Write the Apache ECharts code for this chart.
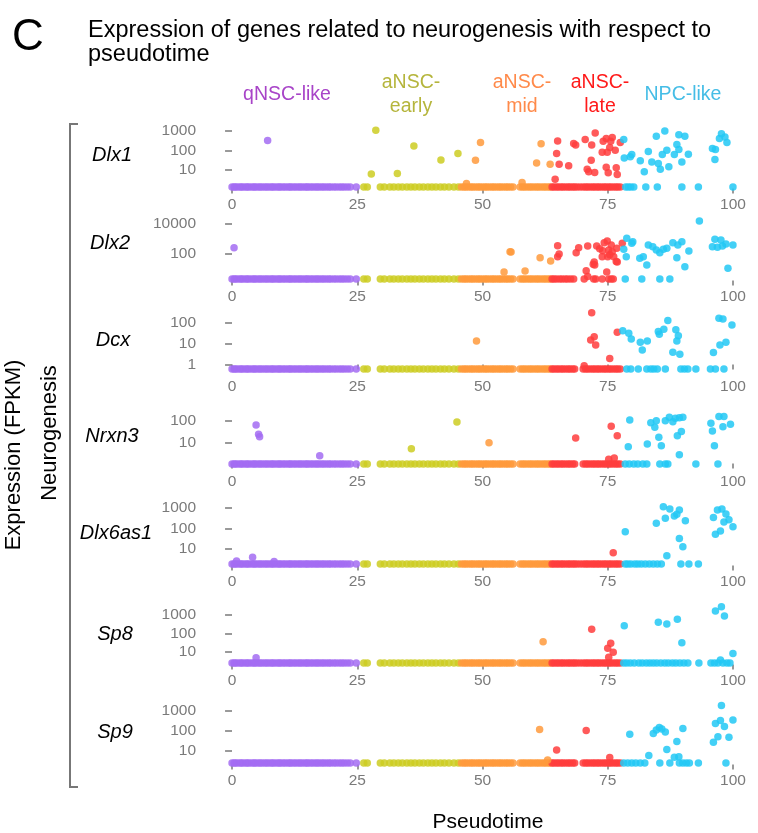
<!DOCTYPE html>
<html>
<head>
<meta charset="utf-8">
<script src="https://cdn.jsdelivr.net/npm/echarts@6/dist/echarts.min.js"></script>
<style>
  html, body { margin: 0; padding: 0; background: #ffffff; }
  #chart { width: 758px; height: 833px; }
</style>
</head>
<body>
<div id="chart"></div>
<script>
// ---------------------------------------------------------------------------
// Cell stages along pseudotime
// ---------------------------------------------------------------------------
const stageNames  = ['qNSC-like', 'aNSC-early', 'aNSC-mid', 'aNSC-late', 'NPC-like'];
const stageColors = ['#a36cf2', '#cccc22', '#ff9a3c', '#ff3d3d', '#22c8f5'];
const stageTextColors = ['#a844c8', '#b5b53c', '#ff8a4a', '#ff1a1a', '#45bde6'];
const stageBreaks = [25.8, 45.6, 63.7, 77.95];   // pseudotime where the next stage starts

const pseudotimeTicks = [0, 25, 50, 75, 100];
const geneNames = ['Dlx1', 'Dlx2', 'Dcx', 'Nrxn3', 'Dlx6as1', 'Sp8', 'Sp9'];

// Cells with no detected expression (pseudotime), shared by every gene up to aNSC-mid
const earlyZeroCells = [
  0.0, 0.4, 0.7, 1.1, 1.6, 1.9, 2.3, 2.8, 3.1, 3.5, 4.0, 4.4, 4.7, 5.2, 5.6, 6.0, 6.5, 6.9,
  7.3, 7.8, 8.1, 8.5, 9.0, 9.4, 9.7, 10.2, 10.6, 11.1, 11.5, 11.8, 12.3, 12.7, 13.2, 13.6,
  14.0, 14.5, 14.9, 15.2, 15.7, 16.1, 16.6, 17.0, 17.4, 17.9, 18.3, 18.8, 19.3, 19.7, 20.3,
  20.8, 21.4, 21.9, 22.4, 23.0, 23.6, 24.8,
  26.3, 27.0, 29.6, 30.4, 31.5, 32.3, 33.2, 34.0, 34.9, 35.7, 36.5, 37.4, 38.2, 39.1, 39.9,
  40.7, 41.6, 42.4, 43.3, 44.3, 45.2,
  45.8, 46.3, 46.7, 47.2, 47.7, 48.1, 48.6, 49.1, 49.5, 50.0, 50.5, 50.9, 51.4, 51.9, 52.3,
  52.8, 53.3, 53.7, 54.2, 54.7, 55.1, 55.6, 56.1, 57.5, 58.0, 58.4, 58.9, 59.4, 59.8, 60.3,
  60.8, 61.2, 61.7, 62.2, 62.6, 63.1, 63.5
];

// aNSC-late cells with no detected expression
const lateZeroDense = [63.9, 64.3, 64.8, 65.2, 65.7, 66.1, 66.6, 67.1, 67.5, 68.0, 68.4, 68.9,
  69.5, 70.1, 70.6, 71.0, 71.5, 72.0, 72.4, 72.9, 73.3, 73.8, 74.3, 74.7, 75.2, 75.6, 76.1,
  76.6, 77.0, 77.5];
const lateZeroGap = [63.9, 64.3, 64.8, 65.2, 65.7, 66.1, 66.6, 67.1, 67.5, 68.0, 68.4,
  70.1, 70.6, 71.0, 71.5, 72.0, 72.4, 72.9, 73.3, 73.8, 74.3, 74.7, 75.2, 75.6, 76.1,
  76.6, 77.0, 77.5];
const dlx2LateZero = [63.9, 64.3, 64.8, 65.4, 65.9, 66.5, 67.0, 67.6, 68.2, 70.3, 72.2, 72.6,
  73.9, 75.2, 75.7, 76.1];

// NPC-like cells with no detected expression, per gene
const dlx1NpcZero    = [78.6, 79.1, 79.6, 80.2, 82.6, 84.9, 89.8, 93.1, 100.0];
const dlx2NpcZero    = [78.5, 81.8, 85.4, 87.4];
const dcxNpcZero     = [78.8, 79.6, 81.1, 82.8, 83.6, 84.2, 84.9, 86.5, 89.6, 90.3, 91.0, 92.6,
  95.5, 96.5, 98.2];
const nrxn3NpcZero   = [78.5, 79.3, 80.2, 81.0, 82.0, 82.8, 85.4, 86.5, 87.0, 92.6, 97.0];
const dlx6as1NpcZero = [78.5, 79.0, 79.6, 80.4, 81.0, 81.7, 82.5, 83.3, 84.1, 84.9, 85.7,
  89.6, 91.2, 93.1];
const sp8NpcZero     = [78.2, 78.8, 79.5, 80.3, 81.2, 81.9, 82.7, 83.4, 84.1, 84.8, 85.6, 86.4,
  87.1, 87.9, 88.6, 89.4, 90.2, 91.0, 93.2, 95.6, 96.3, 97.0, 98.0, 98.8, 99.4];
const sp9NpcZero     = [78.2, 79.0, 79.8, 80.6, 81.5, 82.4, 85.4, 87.4, 89.3, 90.0, 90.7, 91.3,
  93.1, 98.6];

// Cells with detected expression: [pseudotime, FPKM]
const dlx1Expr = [
  [7.1, 325], [27.8, 6.3], [28.7, 1070], [33.0, 6.8], [36.3, 170], [41.7, 33], [45.1, 70],
  [46.8, 2.1], [48.6, 32], [49.6, 255], [57.9, 2.3], [60.8, 23], [61.7, 218], [63.5, 20],
  [64.5, 3.4], [64.8, 71], [65.0, 309], [65.3, 20], [67.2, 16.6], [68.2, 230], [68.6, 190],
  [70.5, 365], [70.9, 11], [71.2, 8.3], [71.7, 32], [71.8, 190], [72.4, 7.6], [72.5, 780],
  [73.9, 82], [74.1, 295], [74.7, 405], [74.7, 14], [74.9, 82], [75.1, 7.3], [75.4, 141],
  [75.6, 300], [75.9, 455], [76.5, 104], [76.7, 13], [76.9, 6], [77.5, 256],
  [78.2, 365], [78.3, 42], [79.5, 48], [79.8, 63], [81.5, 30], [82.3, 8.2], [83.1, 89],
  [83.8, 26], [84.7, 535], [85.1, 22], [85.5, 11], [85.9, 63], [86.4, 990], [86.8, 104],
  [87.2, 15], [88.3, 63], [88.8, 200], [89.2, 112], [89.2, 645], [89.8, 26], [90.4, 535],
  [91.1, 65], [95.9, 126], [96.4, 35], [96.5, 112], [97.3, 410], [97.7, 725], [98.4, 490],
  [98.8, 256]
];
const dlx2Expr = [
  [0.4, 236], [54.3, 5.6], [55.5, 128], [55.7, 120], [58.5, 6.6], [61.5, 51], [63.6, 31],
  [65.0, 320], [65.0, 59], [65.3, 90], [68.7, 110], [69.2, 236], [70.7, 7], [71.0, 306],
  [71.0, 2.8], [72.1, 18.6], [72.3, 26], [72.4, 16.6], [72.8, 306], [73.4, 200], [73.9, 59],
  [74.0, 150], [74.3, 510], [74.8, 5.6], [74.9, 660], [75.0, 59], [75.2, 166], [75.4, 80],
  [75.7, 360], [75.9, 128], [76.2, 59], [76.7, 28], [76.8, 220], [76.9, 26], [77.9, 465],
  [78.2, 185], [78.7, 59], [78.8, 1000], [79.8, 465], [80.0, 590], [81.4, 47], [82.1, 59],
  [82.8, 16.6], [83.1, 355], [84.0, 275], [84.7, 166], [85.4, 110], [86.1, 186], [86.8, 214],
  [88.0, 510], [88.8, 51], [89.0, 355], [89.8, 590], [90.4, 12.9], [91.2, 141], [93.3, 14000],
  [95.9, 275], [96.4, 850], [96.9, 251], [97.6, 776], [97.9, 300], [98.6, 417], [99.0, 10],
  [100.0, 355]
];
const dcxExpr = [
  [48.8, 14], [70.3, 0.87], [71.6, 15.5], [71.8, 316], [72.3, 22], [72.6, 8.9], [75.4, 2.0],
  [76.9, 37],
  [78.0, 43], [79.2, 33], [79.7, 17.4], [81.5, 12], [81.9, 5.1], [82.9, 13.8], [85.1, 40],
  [85.3, 29.5], [86.2, 51], [87.0, 135], [88.0, 4], [88.6, 48], [88.8, 13.8], [89.1, 25],
  [89.4, 3.2], [96.1, 3.8], [97.2, 174], [97.4, 8.9], [98.0, 162], [98.6, 12], [99.8, 83]
];
const nrxn3Expr = [
  [4.8, 65], [5.3, 24], [5.5, 18], [17.5, 2.3], [35.8, 5], [44.9, 89], [51.3, 9.5],
  [68.6, 16], [74.4, 186], [75.2, 1.6], [75.7, 56], [76.3, 1.8], [76.9, 20],
  [79.1, 6.2], [79.4, 112], [82.9, 8.3], [83.6, 83], [84.4, 50], [84.7, 102], [85.2, 17],
  [85.7, 6.8], [86.5, 102], [87.3, 150], [88.0, 93], [88.5, 135], [88.9, 20], [89.3, 141],
  [89.3, 2.6], [89.7, 32], [90.0, 150], [95.6, 78], [95.9, 34], [96.3, 6.9], [97.2, 160],
  [98.0, 54], [98.2, 160], [99.5, 71]
];
const dlx6as1Expr = [
  [0.9, 2.6], [4.1, 4], [8.4, 2.5], [76.1, 6.5],
  [78.5, 69], [84.7, 178], [86.1, 1120], [86.5, 309], [86.8, 4.7], [87.4, 870], [88.3, 398],
  [88.8, 479], [89.3, 776], [89.3, 32], [90.0, 12.9], [90.5, 234], [96.1, 331], [96.5, 51],
  [96.9, 776], [97.5, 74], [97.8, 870], [98.2, 200], [98.6, 501], [99.2, 257], [100.0, 120]
];
const sp8Expr = [
  [4.8, 4.7], [62.1, 35], [71.8, 166], [75.0, 15.5], [75.2, 4.9], [75.6, 29], [76.1, 9.3],
  [78.3, 263], [85.1, 407], [86.8, 324], [88.9, 589], [89.8, 31], [96.5, 1660], [97.5, 3.5],
  [97.7, 2880], [98.3, 891], [100.0, 8.1]
];
const sp9Expr = [
  [61.4, 120], [63.0, 3.5], [64.8, 11.2], [70.7, 107], [75.4, 4.7],
  [79.4, 68], [83.2, 5.9], [84.1, 76], [84.7, 112], [85.3, 151], [85.8, 126], [86.5, 89],
  [86.8, 12], [88.3, 4.8], [88.8, 30], [89.2, 5.2], [90.0, 135], [96.1, 27], [96.5, 240],
  [97.0, 52], [97.5, 331], [97.7, 1860], [98.3, 166], [99.2, 49], [100.0, 355]
];

// FPKM at which non-expressing cells sit, and the visible FPKM range of each panel
const zeroLevel = [1.37, 1.94, 0.62, 0.95, 1.86, 2.4, 2.5];
const yLow  = [1.15, 1.54, 0.52, 0.81, 1.58, 2.0, 2.11];
const yHigh = [1780, 21400, 389, 162, 1350, 3550, 2240];
const yTicks = [
  [10, 100, 1000], [100, 10000], [1, 10, 100], [10, 100],
  [10, 100, 1000], [10, 100, 1000], [10, 100, 1000]
];

// ---------------------------------------------------------------------------
// Layout of the seven stacked panels (pixels)
// ---------------------------------------------------------------------------
const panelTop    = [126, 218.3, 311, 416.5, 505, 605, 704];
const panelHeight = [62.5, 62.2, 59.5, 49, 60.5, 59.5, 60.5];
const geneLabelPos = [[112, 155], [110, 243], [113, 340], [112, 436], [116, 533], [115, 634], [115, 732]];

const exprByGene = [dlx1Expr, dlx2Expr, dcxExpr, nrxn3Expr, dlx6as1Expr, sp8Expr, sp9Expr];
const lateZeroByGene = [lateZeroDense, dlx2LateZero, lateZeroGap, lateZeroGap, lateZeroDense, lateZeroDense, lateZeroGap];
const npcZeroByGene = [dlx1NpcZero, dlx2NpcZero, dcxNpcZero, nrxn3NpcZero, dlx6as1NpcZero, sp8NpcZero, sp9NpcZero];

function stageOf(t) {
  let i = 0;
  while (i < stageBreaks.length && t >= stageBreaks[i]) i++;
  return i;
}
function point(t, fpkm) {
  return { value: [t, Math.log10(fpkm)], itemStyle: { color: stageColors[stageOf(t)] } };
}

const tickGrey = '#7a7a7a';
const grids = [], xAxes = [], yAxes = [], series = [];

geneNames.forEach((gene, g) => {
  grids.push({ left: 207, top: panelTop[g], width: 560, height: panelHeight[g] });

  xAxes.push({
    type: 'value', gridIndex: g, min: -5, max: 105,
    axisLine: { show: false },
    splitLine: { show: false },
    axisTick: { show: true, customValues: pseudotimeTicks, length: 5,
                lineStyle: { color: tickGrey, width: 1.5 } },
    axisLabel: { show: true, customValues: pseudotimeTicks, color: tickGrey,
                 fontFamily: 'Liberation Sans', fontSize: 15.5, margin: 8 }
  });

  const logTicks = yTicks[g].map(v => Math.log10(v));
  yAxes.push({
    type: 'value', gridIndex: g,
    min: Math.log10(yLow[g]), max: Math.log10(yHigh[g]),
    axisLine: { show: false },
    splitLine: { show: false },
    axisTick: { show: true, customValues: logTicks, length: 7,
                lineStyle: { color: tickGrey, width: 1.5 } },
    axisLabel: { show: true, customValues: logTicks, color: tickGrey,
                 fontFamily: 'Liberation Sans', fontSize: 15.5, margin: 11,
                 formatter: v => String(Math.round(Math.pow(10, v))) }
  });

  const zeros = earlyZeroCells.concat(lateZeroByGene[g], npcZeroByGene[g]);
  const data = zeros.map(t => point(t, zeroLevel[g]))
    .concat(exprByGene[g].map(d => point(d[0], d[1])));

  series.push({
    type: 'scatter', name: gene, xAxisIndex: g, yAxisIndex: g,
    symbol: 'circle', symbolSize: 7.5, clip: true, silent: true,
    itemStyle: { opacity: 0.85 },
    data: data
  });
});

// ---------------------------------------------------------------------------
// Text and bracket drawn on top of the panels
// ---------------------------------------------------------------------------
const font = 'Liberation Sans, Arial, sans-serif';
const graphics = [
  { type: 'text', x: 12, y: 16, style: { text: 'C', font: '44px ' + font, fill: '#000' } },
  { type: 'text', x: 88, y: 19, style: { text: 'Expression of genes related to neurogenesis with respect to\npseudotime',
      font: '23.5px ' + font, fill: '#000', lineHeight: 24 } },
  { type: 'polyline', shape: { points: [[78, 124], [70, 124], [70, 787], [78, 787]] },
    style: { stroke: '#777', lineWidth: 2, fill: null } },
  { type: 'text', x: 14, y: 455, rotation: Math.PI / 2,
    style: { text: 'Expression (FPKM)', font: '22px ' + font, fill: '#000', align: 'center', verticalAlign: 'middle' } },
  { type: 'text', x: 50, y: 433, rotation: Math.PI / 2,
    style: { text: 'Neurogenesis', font: '22px ' + font, fill: '#000', align: 'center', verticalAlign: 'middle' } },
  { type: 'text', x: 488, y: 822,
    style: { text: 'Pseudotime', font: '21px ' + font, fill: '#000', align: 'center', verticalAlign: 'middle' } }
];

const stageLabelPos = [[287, 95], [411, 95], [522, 95], [600, 95], [683, 95]];
const stageLabelText = ['qNSC-like', 'aNSC-\nearly', 'aNSC-\nmid', 'aNSC-\nlate', 'NPC-like'];
stageLabelText.forEach((txt, i) => {
  graphics.push({ type: 'text', x: stageLabelPos[i][0], y: stageLabelPos[i][1],
    style: { text: txt, font: '19.5px ' + font, fill: stageTextColors[i], align: 'center',
             verticalAlign: 'middle', lineHeight: 24 } });
});
geneNames.forEach((gene, g) => {
  graphics.push({ type: 'text', x: geneLabelPos[g][0], y: geneLabelPos[g][1],
    style: { text: gene, font: 'italic 20px ' + font, fill: '#000', align: 'center', verticalAlign: 'middle' } });
});

const chart = echarts.init(document.getElementById('chart'), null, { renderer: 'canvas' });
chart.setOption({
  backgroundColor: '#ffffff',
  animation: false,
  grid: grids,
  xAxis: xAxes,
  yAxis: yAxes,
  series: series,
  graphic: graphics
});
</script>
</body>
</html>
